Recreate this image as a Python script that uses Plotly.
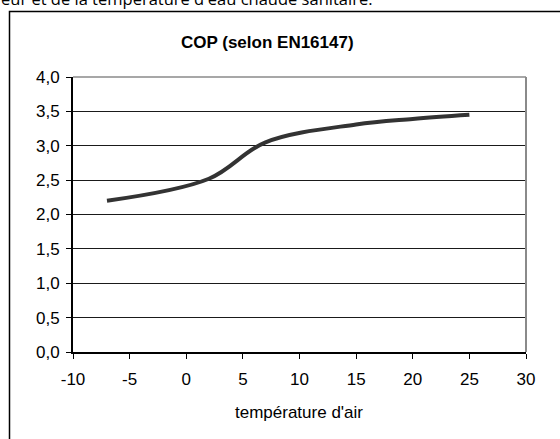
import plotly.graph_objects as go

# COP curve as a function of outdoor air temperature
air_temp = [-7, 2, 7, 15, 20, 25]
cop = [2.2, 2.52, 3.05, 3.31, 3.39, 3.45]

x_ticks = [-10, -5, 0, 5, 10, 15, 20, 25, 30]
x_tick_labels = ["-10", "-5", "0", "5", "10", "15", "20", "25", "30"]
y_ticks = [0.0, 0.5, 1.0, 1.5, 2.0, 2.5, 3.0, 3.5, 4.0]
y_tick_labels = ["0,0", "0,5", "1,0", "1,5", "2,0", "2,5", "3,0", "3,5", "4,0"]

W, H = 560, 439
L, R, T, B = 73, 34, 77, 87
PW, PH = W - L - R, H - T - B


def px_x(px):
    return (px - L) / PW


def px_y(py):
    return (H - B - py) / PH


fig = go.Figure()
fig.add_trace(go.Scatter(
    x=air_temp, y=cop, mode="lines",
    line=dict(color="#333333", width=4, shape="spline", smoothing=1.0),
    hoverinfo="skip", showlegend=False,
))

axis_font = dict(family="Liberation Sans, Arial, sans-serif", size=17, color="#000")

fig.update_layout(
    width=W, height=H,
    margin=dict(l=L, r=R, t=T, b=B),
    paper_bgcolor="white", plot_bgcolor="white",
    showlegend=False,
    xaxis=dict(
        range=[-10, 30], tickvals=x_ticks, ticktext=x_tick_labels,
        showgrid=False, zeroline=False,
        showline=True, linecolor="#000", linewidth=1.5,
        ticks="outside", ticklen=5, tickcolor="#000", tickwidth=1,
        ticklabelstandoff=6,
        tickfont=axis_font,
    ),
    yaxis=dict(
        range=[0, 4], tickvals=y_ticks, ticktext=y_tick_labels,
        showgrid=True, gridcolor="#1a1a1a", gridwidth=1, zeroline=False,
        showline=True, linecolor="#000", linewidth=2,
        ticks="outside", ticklen=5, tickcolor="#000", tickwidth=1,
        ticklabelstandoff=3,
        tickfont=axis_font,
    ),
)

# plot area border (top and right edges in gray)
fig.add_shape(type="line", xref="paper", yref="paper", x0=0, x1=1, y0=1, y1=1,
              line=dict(color="#8a8a8a", width=1.5), layer="above")
fig.add_shape(type="line", xref="paper", yref="paper", x0=1, x1=1, y0=0, y1=1,
              line=dict(color="#8a8a8a", width=2), layer="above")

# outer chart frame
fig.add_shape(type="rect", xref="paper", yref="paper",
              x0=px_x(9.5), x1=px_x(600), y0=px_y(480), y1=px_y(11.5),
              line=dict(color="#000", width=1.5), fillcolor="rgba(0,0,0,0)", layer="above")

# chart title
fig.add_annotation(
    xref="paper", yref="paper", x=px_x(267), y=px_y(42),
    xanchor="center", yanchor="middle", showarrow=False,
    text="<b>COP (selon EN16147)</b>",
    font=dict(family="Liberation Sans, Arial, sans-serif", size=17, color="#000"),
)

# x-axis title
fig.add_annotation(
    xref="paper", yref="paper", x=px_x(299), y=px_y(412),
    xanchor="center", yanchor="middle", showarrow=False,
    text="température d'air", font=axis_font,
)

# surrounding document text above the chart
fig.add_annotation(
    xref="paper", yref="paper", x=px_x(374), y=px_y(-1.5),
    xanchor="right", yanchor="middle", showarrow=False,
    text="eur et de la température d'eau chaude sanitaire.",
    font=dict(family="Open Sans, sans-serif", size=16.5, color="#000"),
)

fig.write_html("out.html")
